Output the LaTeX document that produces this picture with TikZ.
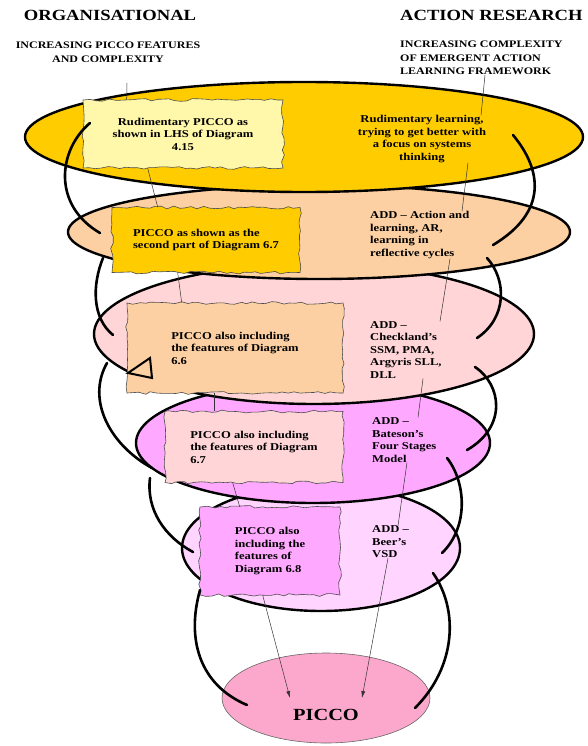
\documentclass[tikz,border=0pt]{standalone}
\usepackage{fontspec}
\setmainfont{Liberation Serif}[FakeStretch=1.2]
\usepackage{tikz}
\usetikzlibrary{shapes.geometric,decorations.pathmorphing,arrows.meta}
\definecolor{gold_layer}{RGB}{255,204,0}
\definecolor{pale_yellow}{RGB}{255,247,170}
\definecolor{tan_layer}{RGB}{252,208,162}
\definecolor{rose_layer}{RGB}{255,213,216}
\definecolor{violet_layer}{RGB}{255,168,255}
\definecolor{lilac_layer}{RGB}{255,212,255}
\definecolor{picco_pink}{RGB}{252,168,204}
\newcommand{\bodytext}{\fontsize{10.5}{12.5}\selectfont\bfseries}
\newcommand{\headtext}{\fontsize{15.5}{18}\selectfont\bfseries}
\newcommand{\subheadtext}{\fontsize{10}{13.5}\selectfont\bfseries}
\newcommand{\centretext}{\fontsize{17}{20}\selectfont\bfseries}

\begin{document}
\begin{tikzpicture}[x=1pt, y=-1pt,
    layer/.style={ellipse, draw=black, line width=2.4pt, inner sep=0pt},
    blob/.style={draw=black!70, line width=0.6pt, inner sep=0pt, align=left, font=\bodytext,
        decorate, decoration={random steps, segment length=6pt, amplitude=1.4pt}},
    note/.style={inner sep=0pt, align=left, font=\bodytext},
    head/.style={inner sep=0pt, font=\headtext},
    subhead/.style={inner sep=0pt, font=\subheadtext},
    swirl/.style={line width=2.6pt, line cap=round},
    link/.style={draw=black!80, line width=0.5pt},
    pointer/.style={link, -{Latex[length=7pt, width=4pt]}}
    ]
    \pgfmathsetseed{7}
    \useasboundingbox (0,0) rectangle (587,746);

    \node[head] (orghead) at (110,15) {ORGANISATIONAL};
    \node[head, anchor=west] (arhead) at (400,15) {ACTION RESEARCH};
    \node[subhead, align=center] (orgsub) at (108,52) {INCREASING PICCO FEATURES\\AND COMPLEXITY};
    \node[subhead, align=left, anchor=west] (arsub) at (400,58) {INCREASING COMPLEXITY\\OF EMERGENT ACTION\\LEARNING FRAMEWORK};

    \node[ellipse, draw=black!60, line width=0.6pt, fill=picco_pink, minimum width=208pt, minimum height=90pt] (picco) at (326,698) {};
    \node[layer, fill=lilac_layer, minimum width=278pt, minimum height=126pt] (lilac) at (321,548) {};
    \node[layer, fill=violet_layer, minimum width=354pt, minimum height=120pt] (violet) at (313,443) {};
    \node[layer, fill=rose_layer, minimum width=440pt, minimum height=140pt] (rose) at (314,334) {};
    \node[layer, fill=tan_layer, minimum width=502pt, minimum height=94pt] (tan) at (319,232) {};
    \node[layer, fill=gold_layer, minimum width=558pt, minimum height=110pt] (gold) at (304,137) {};

    \node[font=\centretext] (piccolabel) at ([yshift=-17pt]picco.center) {PICCO};

    \node[blob, align=center, fill=pale_yellow, minimum width=200pt, minimum height=68pt] (orgone) at (183,134)
        {Rudimentary PICCO as\\shown in LHS of Diagram\\4.15};
    \node[blob, fill=gold_layer, minimum width=188pt, minimum height=65pt] (orgtwo) at (206,240)
        {PICCO as shown as the\\second part of Diagram 6.7};
    \node[blob, fill=tan_layer, minimum width=216pt, minimum height=90pt] (orgthree) at (235,348)
        {PICCO also including\\the features of Diagram\\6.6};
    \node[blob, fill=rose_layer, minimum width=178pt, minimum height=71pt] (orgfour) at (254,447)
        {PICCO also including\\the features of Diagram\\6.7};
    \node[blob, fill=violet_layer, minimum width=140pt, minimum height=88pt] (orgfive) at (270,551)
        {PICCO also\\including the\\features of\\Diagram 6.8};

    \node[note, align=center] (arone) at (422,139) {Rudimentary learning,\\trying to get better with\\a focus on systems\\thinking};
    \node[note, anchor=west] (artwo) at (370,235) {ADD -- Action and\\learning, AR,\\learning in\\reflective cycles};
    \node[note, anchor=west] (arthree) at (370,350) {ADD --\\Checkland's\\SSM, PMA,\\Argyris SLL,\\DLL};
    \node[note, anchor=west] (arfour) at (372,440) {ADD --\\Bateson's\\Four Stages\\Model};
    \node[note, anchor=west] (arfive) at (372,542) {ADD --\\Beer's\\VSD};

    \coordinate (orgtick) at (127,83);
    \draw[link] (orgtick) -- ([xshift=44pt]orgone.north west);
    \draw[link] ([xshift=65pt]orgone.south west) -- ([xshift=46pt]orgtwo.north west);
    \draw[link] ([xshift=66pt]orgtwo.south west) -- ([xshift=55pt]orgthree.north west);
    \draw[link] ([xshift=88pt]orgthree.south west) -- ([xshift=50pt]orgfour.north west);
    \draw[link] ([xshift=68pt]orgfour.south west) -- ([xshift=40pt]orgfive.north west);
    \draw[pointer] ([xshift=63pt]orgfive.south west) -- ([xshift=-36pt]picco.center);

    \draw[link] ([xshift=85pt]arsub.south west) -- ([xshift=59pt]arone.north);
    \draw[link] ([xshift=46pt]arone.south) -- ([xshift=92pt]artwo.north west);
    \draw[link] ([xshift=80pt]artwo.south west) -- ([xshift=70pt]arthree.north west);
    \draw[link] ([xshift=53pt]arthree.south west) -- ([xshift=46pt]arfour.north west);
    \draw[link] ([xshift=35pt]arfour.south west) -- ([xshift=26pt]arfive.north west);
    \draw[pointer] ([xshift=16pt]arfive.south west) -- ([xshift=36pt]picco.center);

    \draw[line width=2pt, line join=miter, fill=tan_layer] (128,373) -- (150,358) -- (152,378) -- cycle;

    \draw[swirl] (90,123) .. controls (58,150) and (52,205) .. (100,233);
    \draw[swirl] (103,258) .. controls (92,285) and (92,318) .. (113,335);
    \draw[swirl] (107,363) .. controls (86,400) and (110,445) .. (152,468);
    \draw[swirl] (150,478) .. controls (146,510) and (165,537) .. (193,552);
    \draw[swirl] (200,590) .. controls (186,640) and (200,685) .. (247,705);

    \draw[swirl] (513,135) .. controls (542,170) and (548,212) .. (493,245);
    \draw[swirl] (487,258) .. controls (507,280) and (507,318) .. (477,338);
    \draw[swirl] (475,367) .. controls (502,385) and (507,427) .. (467,450);
    \draw[swirl] (447,458) .. controls (466,482) and (469,527) .. (442,553);
    \draw[swirl] (433,573) .. controls (459,610) and (456,667) .. (415,708);
\end{tikzpicture}
\end{document}
